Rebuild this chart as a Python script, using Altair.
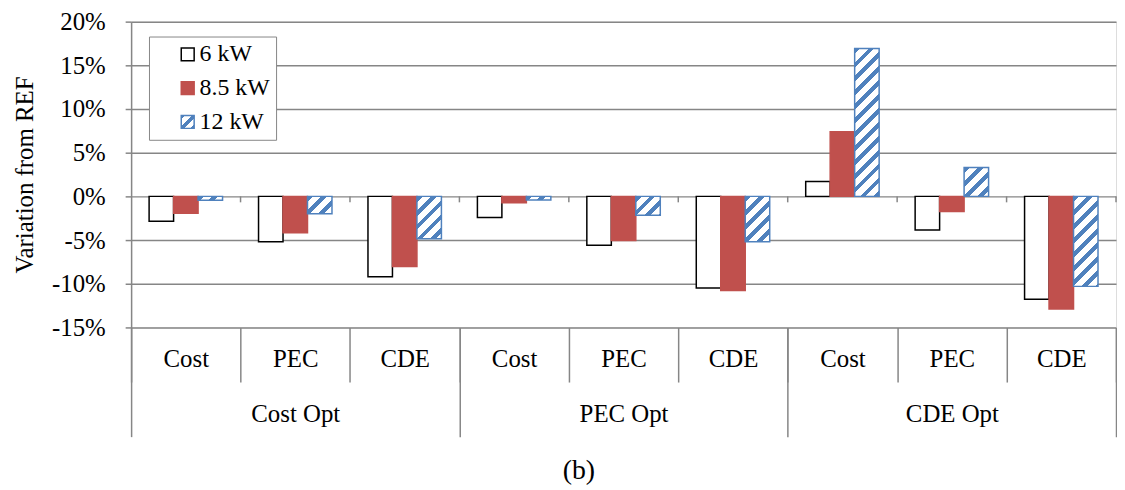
import altair as alt
import pandas as pd

# ---------------- data ----------------
groups = ["Cost Opt", "PEC Opt", "CDE Opt"]
metrics = ["Cost", "PEC", "CDE"]
series = ["6 kW", "8.5 kW", "12 kW"]
v_6kw = [-2.85, -5.2, -9.2, -2.43, -5.6, -10.5, 1.7, -3.86, -11.78]
v_85kw = [-1.93, -4.17, -8.03, -0.72, -5.04, -10.76, 7.39, -1.74, -12.9]
v_12kw = [-0.45, -2.0, -4.85, -0.42, -2.16, -5.2, 16.93, 3.3, -10.3]
y_ticks = [-15, -10, -5, 0, 5, 10, 15, 20]

cats = [f"{g}|{m}" for g in groups for m in metrics]
rows = []
for i, c in enumerate(cats):
    for s, vals in zip(series, [v_6kw, v_85kw, v_12kw]):
        rows.append({"cat": c, "series": s, "value": vals[i]})
df = pd.DataFrame(rows)
cat_df = pd.DataFrame({"cat": cats})
grp_df = pd.DataFrame({"grp": groups})

# ---------------- layout / style ----------------
FONT = "Liberation Serif"
GREY = "#868686"
RED = "#C0504D"
BLUE = "#4F81BD"
W, H = 992, 308
Y_MIN, Y_MAX = -15, 20
PPU = H / (Y_MAX - Y_MIN)
OUTER_PAD = 0.735
BAR_W = W / len(cats) / (len(series) + 2 * OUTER_PAD)


def stops(segs):
    parts = []
    for t0, t1, col in segs:
        parts.append(f"{{offset:{t0:.4f},color:'{col}'}}")
        parts.append(f"{{offset:{t1:.4f},color:'{col}'}}")
    return "[" + ",".join(parts) + "]"


# hatch for bars: 45 degree stripes with constant pixel pitch
L, N, F = 280, 20, 0.42
bar_segs = []
for i in range(N):
    bar_segs.append((i / N, (i + F) / N, BLUE))
    bar_segs.append(((i + F) / N, (i + 1) / N, "white"))
h = f"(abs(datum.value)*{PPU:.4f})"
den = f"({BAR_W:.4f}*{BAR_W:.4f}+{h}*{h})"
bar_grad = (f"{{gradient:'linear',x1:0,y1:0,x2:{L}*{BAR_W:.4f}/{den},"
            f"y2:{L}*{h}/{den},stops:{stops(bar_segs)}}}")

sym_segs = [(0, 0.15, BLUE), (0.15, 0.4, "white"), (0.4, 0.6, BLUE),
            (0.6, 0.85, "white"), (0.85, 1, BLUE)]
sym_grad = f"{{gradient:'linear',x1:0,y1:0,x2:1,y2:1,stops:{stops(sym_segs)}}}"

fill_scale = alt.Scale(domain=series, range=["white", RED, alt.ExprRef(sym_grad)])
stroke_scale = alt.Scale(domain=series, range=["black", RED, BLUE])

legend = alt.Legend(
    title=None, orient="none", legendX=18, legendY=15, direction="vertical",
    symbolType="square", symbolSize=169, symbolStrokeWidth=1.5,
    labelFont=FONT, labelFontSize=24, labelColor="black",
    padding=6, rowPadding=10, labelOffset=0, symbolOffset=21,
    strokeColor=GREY, fillColor="white",
)

x_scale = alt.Scale(type="band", domain=cats, paddingInner=0, paddingOuter=0)
inner_axis = alt.Axis(
    orient="bottom", title=None, labelExpr="split(datum.label, '|')[1]", labelAngle=0,
    tickBand="extent", tickSize=55, tickColor=GREY, tickWidth=1.5, domain=False,
    grid=False, labelPadding=-24, labelBaseline="middle", labelFontSize=25,
    labelColor="black", labelFont=FONT,
)
y_axis = alt.Axis(
    values=y_ticks, labelExpr="datum.value + '%'", title="Variation from REF",
    grid=True, gridColor=GREY, gridWidth=1.5, domainColor=GREY, domainWidth=1.5,
    tickColor=GREY, tickWidth=1.5, tickSize=6, labelPadding=20,
    labelFont=FONT, labelFontSize=25, labelColor="black",
    titleFont=FONT, titleFontSize=25, titleFontWeight="normal", titleColor="black",
    titlePadding=14,
)
y_scale = alt.Scale(domain=[Y_MIN, Y_MAX], nice=False, zero=False)

x_enc = alt.X("cat:N", scale=x_scale, axis=inner_axis)
xoff_enc = alt.XOffset("series:N", scale=alt.Scale(domain=series, paddingInner=0,
                                                   paddingOuter=OUTER_PAD))
y_enc = alt.Y("value:Q", scale=y_scale, axis=y_axis)

base = alt.Chart(df).encode(x=x_enc, xOffset=xoff_enc, y=y_enc)

layer_a = base.transform_filter(
    alt.FieldOneOfPredicate(field="series", oneOf=series[:2])
).mark_bar(strokeWidth=1.5).encode(
    fill=alt.Fill("series:N", scale=fill_scale, legend=legend),
    stroke=alt.Stroke("series:N", scale=stroke_scale, legend=legend),
)

layer_b = base.transform_filter(
    alt.FieldEqualPredicate(field="series", equal=series[2])
).mark_bar(strokeWidth=1.5, fill=alt.ExprRef(bar_grad)).encode(
    stroke=alt.Stroke("series:N", scale=stroke_scale, legend=legend),
)

layer_c = alt.Chart(cat_df).mark_rule(color=GREY, strokeWidth=1.5, y2Offset=6).encode(
    x=alt.X("cat:N", scale=x_scale, axis=inner_axis, bandPosition=1),
    y=alt.YDatum(0, axis=y_axis, scale=y_scale),
    y2=alt.Y2Datum(0),
)

layer_d = alt.Chart(grp_df).mark_bar(opacity=0).encode(
    x=alt.X("grp:N",
            scale=alt.Scale(type="band", domain=groups, paddingInner=0, paddingOuter=0),
            axis=alt.Axis(orient="bottom", title=None, labelAngle=0, tickBand="extent",
                          tickSize=110, tickColor=GREY, tickWidth=1.5, domain=False,
                          grid=False, labelPadding=-23, labelBaseline="middle",
                          labelFontSize=25, labelColor="black", labelFont=FONT)),
)

chart = alt.layer(
    alt.layer(layer_a, layer_b, layer_c), layer_d
).resolve_scale(x="independent").properties(
    width=W, height=H,
    padding={"left": 124, "top": 12, "right": 1, "bottom": 162},
    autosize=alt.AutoSizeParams(type="none"),
    title=alt.TitleParams("(b)", orient="bottom", anchor="middle", fontSize=28,
                          font=FONT, fontWeight="normal", color="black", dx=-45, offset=20),
).configure_view(stroke=None).configure(font=FONT, background="white")

chart.save("out.html", embed_options={"renderer": "svg", "actions": False})
